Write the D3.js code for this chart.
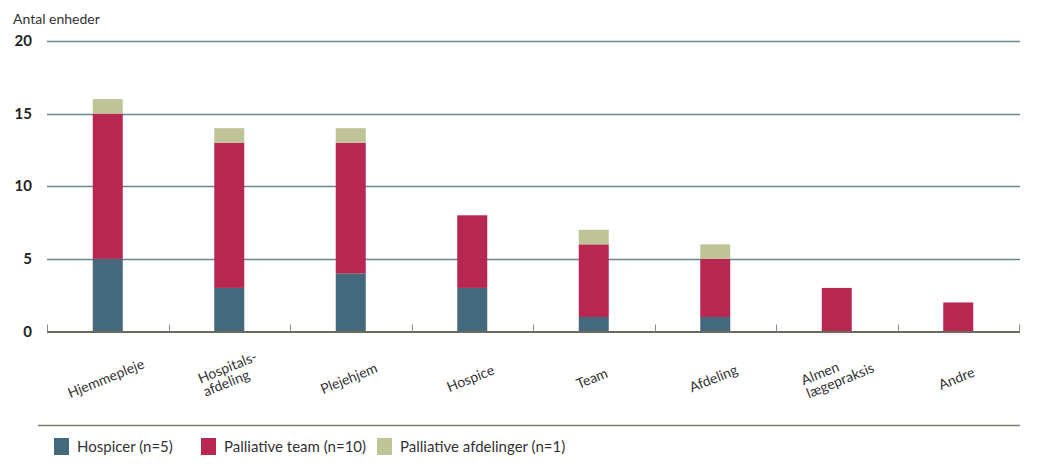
<!DOCTYPE html>
<html>
<head>
<meta charset="utf-8">
<script src="https://cdn.jsdelivr.net/npm/d3@7"></script>
<style>
  html, body { margin: 0; padding: 0; background: #fff; }
  svg { display: block; font-family: Lato, "Open Sans", sans-serif; }
</style>
</head>
<body>
<svg id="chart" width="1038" height="475"></svg>
<script>
// Categories (multi-line labels split on "\n")
const categories = ["Hjemmepleje", "Hospitals-\nafdeling", "Plejehjem", "Hospice", "Team", "Afdeling", "Almen\nlægepraksis", "Andre"];
// Series values per category
const hospicer = [5, 3, 4, 3, 1, 1, 0, 0];
const palliativeTeam = [10, 10, 9, 5, 5, 4, 3, 2];
const palliativeAfdelinger = [1, 1, 1, 0, 1, 1, 0, 0];
const seriesNames = ["Hospicer (n=5)", "Palliative team (n=10)", "Palliative afdelinger (n=1)"];
const seriesColors = ["#44697d", "#b82652", "#bfc497"];
const yTicks = [0, 5, 10, 15, 20];
const yTitle = "Antal enheder";

const svg = d3.select("#chart");
const margin = { left: 47, right: 1019, top: 41, bottom: 331.5 };

const x = d3.scaleBand().domain(d3.range(categories.length)).range([margin.left, margin.right]).paddingInner(0).paddingOuter(0);
const y = d3.scaleLinear().domain([0, 20]).range([margin.bottom, margin.top]);

// Stacked data
const rows = categories.map((c, i) => ({ i, a: hospicer[i], b: palliativeTeam[i], c: palliativeAfdelinger[i] }));
const stack = d3.stack().keys(["a", "b", "c"])(rows);

// Gridlines
svg.append("g").selectAll("line")
  .data(yTicks.filter(t => t > 0))
  .join("line")
  .attr("x1", margin.left).attr("x2", margin.right + 1)
  .attr("y1", d => Math.round(y(d)) + 0.5).attr("y2", d => Math.round(y(d)) + 0.5)
  .attr("stroke", "#6a8594").attr("stroke-width", 1.4);

// Y tick labels
svg.append("g").selectAll("text")
  .data(yTicks)
  .join("text")
  .attr("x", 32).attr("y", d => y(d) + 5)
  .attr("text-anchor", "end")
  .attr("font-size", 15).attr("font-weight", 700)
  .attr("fill", "#222")
  .text(d => d);

// Y title
svg.append("text")
  .attr("x", 13).attr("y", 24)
  .attr("font-size", 14).attr("fill", "#333")
  .text(yTitle);

// Bars
const barW = 30;
svg.append("g").selectAll("g")
  .data(stack)
  .join("g")
  .attr("fill", (d, k) => seriesColors[k])
  .selectAll("rect")
  .data(d => d.filter(s => s[1] - s[0] > 0))
  .join("rect")
  .attr("x", d => x(d.data.i) + x.bandwidth() / 2 - barW / 2)
  .attr("width", barW)
  .attr("y", d => y(d[1]))
  .attr("height", d => y(d[0]) - y(d[1]));

// X axis baseline and ticks
const axisG = svg.append("g");
axisG.append("line")
  .attr("x1", margin.left).attr("x2", margin.right + 1)
  .attr("y1", margin.bottom + 0.5).attr("y2", margin.bottom + 0.5)
  .attr("stroke", "#6b6b5d").attr("stroke-width", 2);
const boundaries = d3.range(categories.length + 1).map(i => margin.left + i * x.bandwidth());
axisG.selectAll("line.tick")
  .data(boundaries)
  .join("line")
  .attr("class", "tick")
  .attr("x1", d => Math.round(d) + 0.5).attr("x2", d => Math.round(d) + 0.5)
  .attr("y1", margin.bottom - 7).attr("y2", margin.bottom)
  .attr("stroke", "#8a8a80").attr("stroke-width", 1);

// X labels, rotated
const labelG = svg.append("g");
categories.forEach((c, i) => {
  const lines = c.split("\n");
  const cx = x(i) + x.bandwidth() / 2;
  const cy = lines.length > 1 ? 372 : 383;
  const t = labelG.append("text")
    .attr("transform", `translate(${cx},${cy}) rotate(-22)`)
    .attr("font-size", 14).attr("fill", "#333");
  const spans = lines.map((ln, k) => t.append("tspan").attr("y", k * 14).text(ln));
  const maxW = d3.max(spans, s => s.node().getComputedTextLength());
  spans.forEach(s => s.attr("x", -maxW / 2));
});

// Legend
svg.append("line")
  .attr("x1", 38).attr("x2", 1020)
  .attr("y1", 425.5).attr("y2", 425.5)
  .attr("stroke", "#7d7d72").attr("stroke-width", 1.5);
const legendX = [54, 201, 377];
seriesNames.forEach((name, k) => {
  svg.append("rect")
    .attr("x", legendX[k]).attr("y", 438)
    .attr("width", 15).attr("height", 17)
    .attr("fill", seriesColors[k]);
  svg.append("text")
    .attr("x", legendX[k] + 23).attr("y", 452)
    .attr("font-size", 15).attr("fill", "#333")
    .text(name);
});
</script>
</body>
</html>
